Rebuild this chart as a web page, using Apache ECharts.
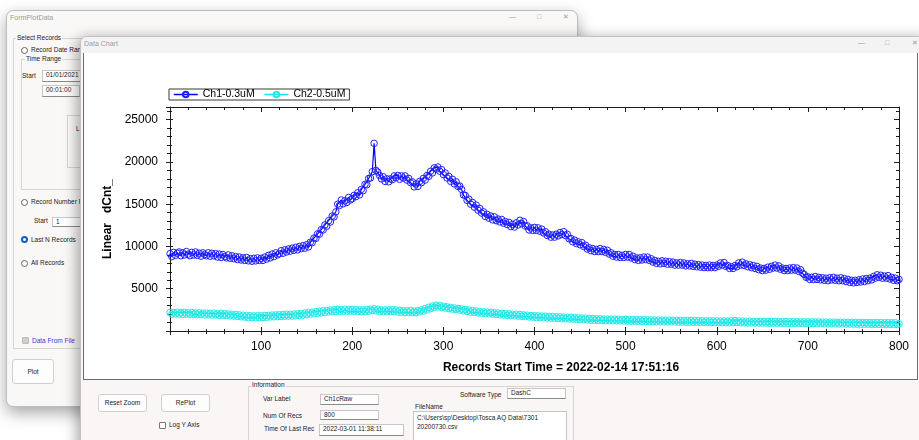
<!DOCTYPE html>
<html>
<head>
<meta charset="utf-8">
<title>Data Chart</title>
<script src="https://cdn.jsdelivr.net/npm/echarts@6/dist/echarts.min.js"></script>
<style>
  body { margin:0; width:919px; height:440px; overflow:hidden; background:#fff; position:relative;
         font-family:"Liberation Sans", Arial, sans-serif; font-size:6.5px; color:#222; }
  .a { position:absolute; white-space:nowrap; line-height:8px; }
  .win { position:absolute; box-sizing:border-box; }
  .tb { position:absolute; box-sizing:border-box; background:#fff; border:1px solid #c9c5c5; border-bottom-color:#8a8a8a; padding-left:3px; line-height:8px; }
  .btn { position:absolute; box-sizing:border-box; background:#fdfdfd; border:1px solid #d2cfcf; border-radius:3px; text-align:center; }
  .grp { position:absolute; box-sizing:border-box; border:1px solid #d9d4d4; }
  .lbl { position:absolute; white-space:nowrap; line-height:8px; background:#faf7f7; padding:0 1px; }
  .radio { position:absolute; box-sizing:border-box; width:7px; height:7px; border:1px solid #666; border-radius:50%; background:#fff; }
  .radio.on { border:2px solid #0a5fc8; background:#fff; }
  .chk { position:absolute; box-sizing:border-box; width:7px; height:7px; border:1px solid #777; border-radius:1px; background:#fff; }
  .cap { position:absolute; color:#9c9c9c; font-size:7px; line-height:8px; }
</style>
</head>
<body>

<!-- back window : FormPlotData -->
<div class="win" style="left:6px;top:10px;width:572px;height:397px;background:#faf7f7;border:1px solid #bdbdbd;border-radius:7px;box-shadow:0 6px 16px rgba(0,0,0,0.35);"></div>
<div class="cap" style="left:10px;top:14px;">FormPlotData</div>
<div class="cap" style="left:509px;top:13px;">&#8212;</div>
<div class="cap" style="left:537px;top:13px;">&#9633;</div>
<div class="cap" style="left:563px;top:13px;">&#10005;</div>

<div class="grp" style="left:13px;top:38px;width:90px;height:311px;"></div>
<div class="lbl" style="left:16px;top:34px;">Select Records</div>
<div class="radio" style="left:21px;top:47px;"></div>
<div class="a" style="left:31px;top:46px;">Record Date Range</div>
<div class="grp" style="left:21px;top:59px;width:80px;height:131px;"></div>
<div class="lbl" style="left:25px;top:55px;">Time Range</div>
<div class="a" style="left:22px;top:72px;">Start</div>
<div class="tb" style="left:42px;top:70px;width:50px;height:12px;">01/01/2021</div>
<div class="tb" style="left:42px;top:85px;width:38px;height:12px;">00:01:00</div>
<div class="grp" style="left:67px;top:115px;width:30px;height:53px;"></div>
<div class="a" style="left:76px;top:125px;">L</div>
<div class="radio" style="left:21px;top:199px;"></div>
<div class="a" style="left:31px;top:198px;">Record Number Range</div>
<div class="a" style="left:34px;top:217px;">Start</div>
<div class="tb" style="left:52px;top:217px;width:40px;height:10px;">1</div>
<div class="radio on" style="left:21px;top:236px;"></div>
<div class="a" style="left:31px;top:236px;">Last N Records</div>
<div class="radio" style="left:21px;top:260px;"></div>
<div class="a" style="left:31px;top:259px;">All Records</div>
<div class="chk" style="left:22px;top:337px;background:#cfcfcf;border-color:#bbb;"></div>
<div class="a" style="left:32px;top:337px;color:#3b3bcf;">Data From File</div>
<div class="btn" style="left:12px;top:359px;width:42px;height:25px;line-height:23px;">Plot</div>

<!-- front window : Data Chart -->
<div class="win" style="left:80px;top:36px;width:850px;height:420px;background:#faf6f6;border:1px solid #c2c2c2;border-radius:7px 0 0 0;box-shadow:-3px 2px 14px rgba(0,0,0,0.35);"></div>
<div class="win" style="left:81px;top:37px;width:845px;height:16px;background:#f3f3f3;border-radius:6px 0 0 0;"></div>
<div class="cap" style="left:84px;top:40px;">Data Chart</div>
<div class="cap" style="left:858px;top:39px;">&#8212;</div>
<div class="cap" style="left:885px;top:39px;">&#9633;</div>
<div class="cap" style="left:912px;top:39px;">&#10005;</div>

<div class="win" style="left:83px;top:53px;width:835px;height:327px;background:#fff;border:1px solid #6c6c6c;border-top:none;"></div>
<div id="chart" style="position:absolute;left:84px;top:53px;width:832px;height:326px;"></div>

<div class="btn" style="left:98px;top:394px;width:49px;height:18px;line-height:16px;">Reset Zoom</div>
<div class="btn" style="left:161px;top:394px;width:49px;height:18px;line-height:16px;">RePlot</div>
<div class="chk" style="left:159px;top:422px;"></div>
<div class="a" style="left:169px;top:421px;">Log Y Axis</div>

<div class="grp" style="left:248px;top:386px;width:326px;height:62px;"></div>
<div class="lbl" style="left:251px;top:381px;background:#faf6f6;">Information</div>
<div class="a" style="left:263px;top:395px;">Var Label</div>
<div class="tb" style="left:320px;top:394px;width:59px;height:11px;">Ch1cRaw</div>
<div class="a" style="left:263px;top:412px;">Num Of Recs</div>
<div class="tb" style="left:320px;top:410px;width:59px;height:10px;">800</div>
<div class="a" style="left:264px;top:425px;">Time Of Last Rec</div>
<div class="tb" style="left:319px;top:424px;width:85px;height:12px;">2022-03-01 11:38:11</div>
<div class="a" style="left:460px;top:391px;">Software Type</div>
<div class="tb" style="left:507px;top:388px;width:59px;height:11px;">DashC</div>
<div class="a" style="left:415px;top:403px;">FileName</div>
<div class="tb" style="left:413px;top:411px;width:154px;height:36px;line-height:9px;padding-top:1px;">C:\Users\sp\Desktop\Tosca AQ Data\7301<br>20200730.csv</div>

<script>
// every 2nd record (record 0 .. 800), one row = 40 records
var recordStep = 2;
var ch1Name = 'Ch1-0.3uM';
var ch2Name = 'Ch2-0.5uM';
var xTitle = 'Records Start Time = 2022-02-14 17:51:16';
var yTitle = 'Linear   dCnt_';
var xTicks = [0, 100, 200, 300, 400, 500, 600, 700, 800];
var yTicks = [0, 5000, 10000, 15000, 20000, 25000];

var ch1Values = [
  9150, 8800, 9300, 8950, 9200, 9350, 8900, 9250, 9000, 9400, 9100, 8900, 9300, 9000, 9350, 8950, 9200, 8850, 9250, 9050,
  8900, 9250, 8850, 9200, 8900, 9150, 8750, 9100, 8700, 9050, 8800, 8650, 9000, 8600, 8900, 8550, 8800, 8450, 8750, 8400,
  8650, 8350, 8700, 8300, 8550, 8250, 8600, 8300, 8650, 8350, 8600, 8350, 8750, 8500, 8950, 8650, 9100, 8800, 9250, 9000,
  9150, 9500, 9200, 9600, 9350, 9700, 9450, 9800, 9550, 9900, 9600, 10000, 9750, 10100, 9800, 10200, 9950, 10500, 10450, 11000,
  10950, 11500, 11450, 12000, 11950, 12550, 12400, 13050, 12900, 13600, 13500, 14100, 15000, 14850, 15500, 15050, 15400, 15200, 15800, 15500,
  15650, 16050, 15900, 16350, 16100, 16750, 16600, 17350, 17300, 18050, 18100, 18850, 22200, 19000, 18800, 18400, 18000, 18250, 17700, 18000,
  17650, 18000, 17900, 18350, 18150, 18400, 17950, 18350, 18100, 18350, 17850, 18050, 17550, 17650, 17050, 17400, 17100, 17700, 17550, 18050,
  17850, 18400, 18300, 18900, 18700, 19300, 19150, 19400, 18900, 19100, 18500, 18700, 18100, 18300, 17700, 17950, 17400, 17650, 17100, 17150,
  16750, 16100, 16050, 15450, 15600, 15000, 15200, 14650, 14900, 14300, 14500, 13950, 14100, 13550, 13800, 13350, 13600, 13150, 13500, 13050,
  13250, 12900, 13200, 12750, 12950, 12600, 12850, 12350, 12600, 12300, 12800, 12550, 13100, 12700, 12950, 12400, 12450, 11950, 12200, 11900,
  12250, 11900, 12200, 11800, 12050, 11600, 11750, 11300, 11450, 11100, 11350, 11100, 11450, 11250, 11650, 11400, 11750, 11300, 11450, 10900,
  10950, 10550, 10750, 10350, 10550, 10200, 10450, 10000, 10150, 9700, 9850, 9500, 9750, 9400, 9650, 9400, 9750, 9400, 9650, 9300,
  9550, 9100, 9250, 8850, 9050, 8750, 9050, 8700, 8950, 8700, 9050, 8750, 9050, 8650, 8850, 8450, 8650, 8350, 8650, 8400,
  8750, 8450, 8750, 8350, 8550, 8150, 8350, 8000, 8250, 7950, 8300, 8000, 8250, 7900, 8200, 7900, 8150, 7800, 8050, 7800,
  8100, 7800, 8050, 7700, 7950, 7700, 8000, 7650, 7900, 7600, 7850, 7550, 7800, 7500, 7750, 7500, 7800, 7500, 7750, 7500,
  7800, 7650, 8050, 7800, 8100, 7650, 7750, 7400, 7600, 7400, 7750, 7600, 8050, 7800, 8150, 7750, 7950, 7600, 7850, 7500,
  7750, 7400, 7650, 7250, 7450, 7150, 7400, 7200, 7550, 7300, 7650, 7450, 7800, 7450, 7700, 7300, 7450, 7150, 7400, 7150,
  7450, 7200, 7500, 7200, 7450, 7050, 7250, 6850, 6700, 6350, 6400, 6100, 6350, 6100, 6450, 6100, 6350, 6050, 6300, 6000,
  6250, 5950, 6300, 6050, 6350, 6000, 6250, 5950, 6300, 5950, 6200, 5850, 6100, 5750, 6000, 5700, 6000, 5750, 6050, 5800,
  6150, 5850, 6200, 5950, 6250, 6050, 6450, 6250, 6650, 6350, 6600, 6250, 6500, 6250, 6550, 6150, 6350, 6000, 6250, 5950,
  6100
];

var ch2Values = [
  2200, 1980, 2190, 1990, 2230, 2000, 2170, 1950, 2210, 1990, 2150, 1960, 2190, 1940, 2130, 1930, 2170, 1940, 2110, 1890,
  2130, 1900, 2090, 1880, 2120, 1900, 2060, 1840, 2090, 1860, 2050, 1820, 2010, 1790, 1990, 1770, 1960, 1720, 1910, 1680,
  1870, 1640, 1830, 1600, 1810, 1580, 1790, 1570, 1810, 1590, 1800, 1600, 1830, 1620, 1850, 1660, 1890, 1680, 1910, 1700,
  1930, 1720, 1960, 1750, 1990, 1760, 1970, 1760, 2010, 1800, 2030, 1840, 2090, 1880, 2130, 1940, 2190, 1990, 2230, 2040,
  2290, 2090, 2330, 2140, 2390, 2190, 2430, 2250, 2490, 2280, 2510, 2300, 2560, 2320, 2530, 2330, 2570, 2330, 2540, 2330,
  2560, 2330, 2530, 2310, 2510, 2280, 2490, 2300, 2550, 2340, 2580, 2400, 2630, 2380, 2570, 2320, 2510, 2280, 2490, 2290,
  2510, 2300, 2530, 2280, 2490, 2240, 2450, 2200, 2410, 2180, 2390, 2200, 2430, 2160, 2360, 2180, 2410, 2250, 2510, 2350,
  2660, 2480, 2810, 2640, 2960, 2780, 3060, 2850, 3010, 2790, 2930, 2720, 2860, 2650, 2790, 2580, 2730, 2520, 2670, 2470,
  2610, 2380, 2540, 2320, 2490, 2240, 2410, 2200, 2370, 2140, 2310, 2100, 2270, 2070, 2250, 2030, 2210, 2000, 2170, 1960,
  2130, 1920, 2090, 1880, 2060, 1850, 2030, 1820, 1990, 1790, 1980, 1760, 1950, 1730, 1910, 1700, 1870, 1660, 1830, 1630,
  1810, 1600, 1790, 1580, 1770, 1560, 1760, 1540, 1730, 1520, 1710, 1500, 1690, 1480, 1670, 1460, 1650, 1440, 1630, 1420,
  1610, 1400, 1580, 1370, 1560, 1350, 1530, 1320, 1510, 1300, 1490, 1280, 1470, 1260, 1450, 1250, 1440, 1240, 1430, 1230,
  1420, 1220, 1410, 1210, 1400, 1200, 1390, 1190, 1380, 1180, 1370, 1170, 1370, 1160, 1360, 1150, 1350, 1140, 1340, 1130,
  1330, 1120, 1320, 1110, 1310, 1100, 1300, 1090, 1300, 1090, 1290, 1080, 1280, 1070, 1280, 1070, 1270, 1060, 1260, 1050,
  1260, 1050, 1250, 1040, 1240, 1030, 1240, 1030, 1230, 1020, 1220, 1010, 1220, 1010, 1210, 1000, 1210, 1000, 1200, 990,
  1200, 990, 1190, 980, 1190, 980, 1180, 970, 1210, 1000, 1230, 1010, 1190, 980, 1170, 960, 1160, 950, 1160, 950,
  1150, 940, 1150, 940, 1140, 930, 1140, 930, 1130, 920, 1130, 920, 1120, 910, 1120, 910, 1110, 900, 1110, 900,
  1100, 890, 1110, 900, 1100, 890, 1090, 880, 1090, 880, 1080, 870, 1080, 870, 1070, 860, 1070, 860, 1060, 850,
  1060, 850, 1050, 840, 1050, 840, 1040, 830, 1040, 830, 1030, 820, 1030, 820, 1020, 810, 1020, 810, 1010, 800,
  1010, 800, 1010, 800, 1000, 790, 1000, 790, 1000, 790, 990, 780, 990, 780, 990, 780, 980, 770, 980, 770,
  870
];

var font = '"Liberation Sans", Arial, sans-serif';
var axisColor = '#1c1c1c';
var xMax = xTicks[xTicks.length - 1];
var yMax = 26500;

function pairs(values) {
  return values.map(function(v, i) { return [i * recordStep, v]; });
}

/**x轴 (bottom/top)*/
function xAxisOf(pos, inside, len, minorLen, line, labels) {
  return {
    type: 'value', position: pos, min: 0, max: xMax, interval: xTicks[1] - xTicks[0],
    axisLine: { show: line, onZero: false, lineStyle: { color: axisColor, width: 1 } },
    axisTick: { show: true, inside: inside, length: len, lineStyle: { color: axisColor } },
    minorTick: { show: true, splitNumber: 5, length: minorLen, lineStyle: { color: axisColor } },
    axisLabel: labels ? { show: true, fontSize: 12, color: '#000', fontFamily: font, margin: 10,
      formatter: function(v) { return v === 0 ? '' : String(v); } } : { show: false },
    splitLine: { show: false }
  };
}
/**y轴 (left/right)*/
function yAxisOf(pos, step, inside, len, line, labels) {
  return {
    type: 'value', position: pos, min: 0, max: yMax, interval: step,
    axisLine: { show: line, onZero: false, lineStyle: { color: axisColor, width: 1 } },
    axisTick: { show: true, inside: inside, length: len, lineStyle: { color: axisColor } },
    axisLabel: labels ? { show: true, fontSize: 12, color: '#000', fontFamily: font, margin: 12,
      formatter: function(v) { return (v === 0 || yTicks.indexOf(v) < 0) ? '' : String(v); } } : { show: false },
    splitLine: { show: false }
  };
}

var xMain = xAxisOf('bottom', false, 4, 3, true, true);
xMain.name = xTitle;
xMain.nameLocation = 'middle';
xMain.nameGap = 31;
xMain.nameTextStyle = { fontWeight: 'bold', fontSize: 12, color: '#000', fontFamily: font, padding: [0, 0, 0, 53] };

var yMain = yAxisOf('left', 5000, false, 4, true, true);
yMain.name = yTitle;
yMain.nameLocation = 'middle';
yMain.nameGap = 44;
yMain.nameRotate = 90;
yMain.nameTextStyle = { fontWeight: 'bold', fontSize: 12, color: '#000', fontFamily: font };

var chart = echarts.init(document.getElementById('chart'));
chart.setOption({
  animation: false,
  backgroundColor: '#fff',
  textStyle: { fontFamily: font },
  legend: {
    left: 85, top: 36, padding: [0, 4, 0, 4], itemGap: 9, itemWidth: 24, itemHeight: 7,
    borderColor: '#3a3a3a', borderWidth: 1,
    lineStyle: { width: 1.5 },
    textStyle: { fontSize: 10.5, color: '#000', fontFamily: font },
    data: [ch1Name, ch2Name]
  },
  grid: { left: 86, right: 17, top: 54, bottom: 48 },
  xAxis: [
    xMain,
    xAxisOf('bottom', true, 4, 2, false, false),
    xAxisOf('top', true, 5, 3, true, false)
  ],
  yAxis: [
    yMain,
    yAxisOf('left', 1000, false, 3, false, false),
    yAxisOf('left', 5000, true, 3, false, false),
    yAxisOf('left', 1000, true, 2, false, false),
    yAxisOf('right', 5000, true, 5, true, false),
    yAxisOf('right', 1000, true, 3, false, false)
  ],
  series: [
    {
      name: ch1Name, type: 'line', xAxisIndex: 0, yAxisIndex: 0,
      data: pairs(ch1Values), symbol: 'circle', symbolSize: 6.5, showSymbol: true,
      lineStyle: { color: '#0000ff', width: 1.2 },
      itemStyle: { color: 'rgba(255,255,255,0)', borderColor: '#2020ff', borderWidth: 1 },
      emphasis: { disabled: true }
    },
    {
      name: ch2Name, type: 'line', xAxisIndex: 0, yAxisIndex: 0,
      data: pairs(ch2Values), symbol: 'circle', symbolSize: 6.5, showSymbol: true,
      lineStyle: { color: '#16e6e6', width: 1.2 },
      itemStyle: { color: 'rgba(255,255,255,0)', borderColor: '#22e8e8', borderWidth: 1 },
      emphasis: { disabled: true }
    }
  ]
});
</script>
</body>
</html>
